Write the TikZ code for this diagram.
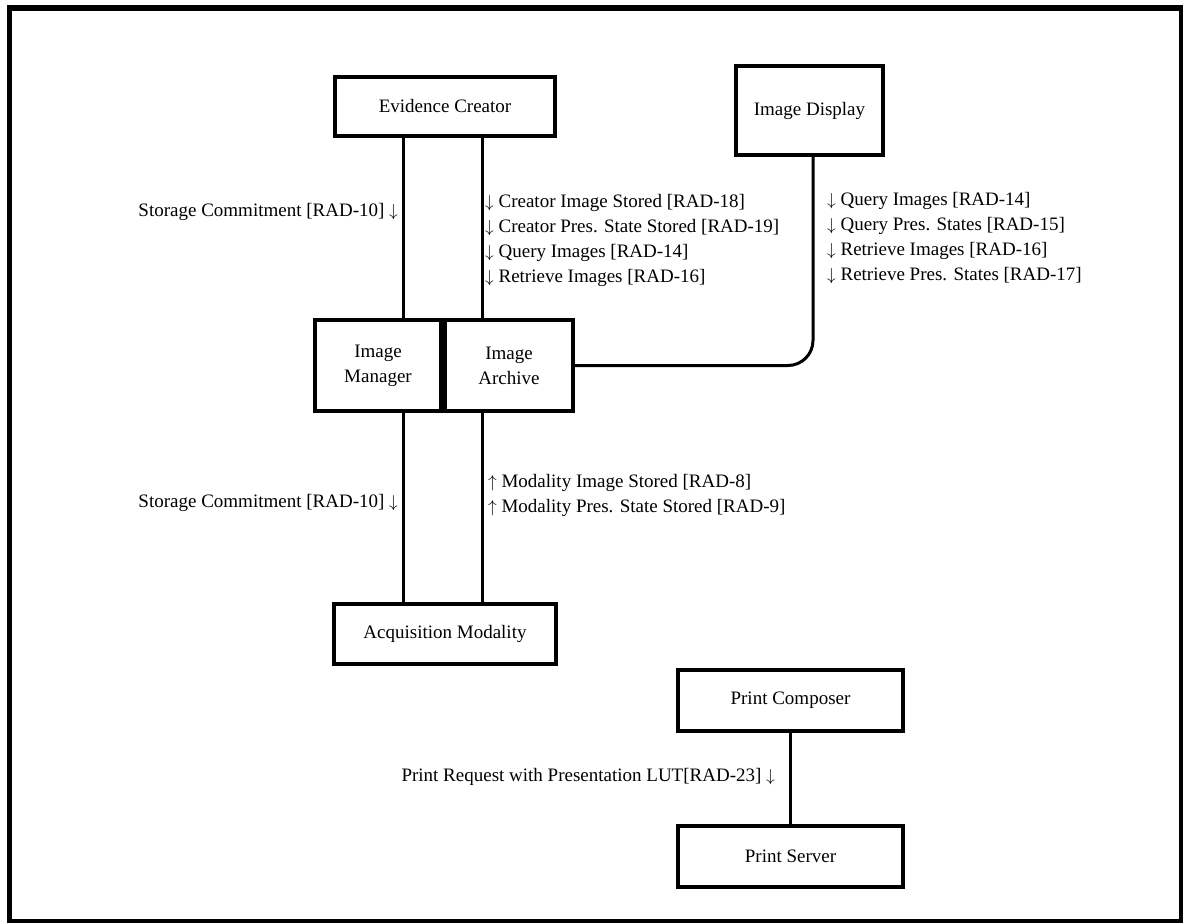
\documentclass[tikz,border=0pt]{standalone}
\usepackage{fontspec}
\setmainfont{Liberation Serif}
\usepackage{tikz}
\usetikzlibrary{positioning,calc}
\newcommand{\dn}{$\downarrow$}
\newcommand{\upw}{$\uparrow$}

\begin{document}
\begin{tikzpicture}[
  x=1pt,y=-1pt,
  font=\fontsize{19}{25}\selectfont,
  actor/.style={draw=black,line width=4pt,fill=white,align=center,inner sep=2pt},
  link/.style={line width=3pt,draw=black},
  txn/.style={align=left,inner sep=0pt}
]
\useasboundingbox (0,0) rectangle (1183,923);
\draw[line width=5.5pt] (9.5,8) rectangle (1182,921.5);

% actors
\node[actor,minimum width=220pt,minimum height=59pt] (ec) at (445,106.5) {Evidence Creator};
\node[actor,minimum width=147pt,minimum height=89pt] (id) at (809.5,110.5) {Image Display};
\node[actor,minimum width=126pt,minimum height=91pt] (im) at (378,365.5) {Image\\Manager};
\node[actor,minimum width=128pt,minimum height=91pt] (ia) at (509,365.5) {Image\\Archive};
\node[actor,minimum width=222pt,minimum height=60pt] (am) at (445,634) {Acquisition Modality};
\node[actor,minimum width=225pt,minimum height=61pt] (pc) at (790.5,700.5) {Print Composer};
\node[actor,minimum width=225pt,minimum height=61pt] (ps) at (790.5,856.5) {Print Server};

% connectors
\draw[link] ([xshift=-42pt]ec.south) -- ([xshift=-42pt]ec.south |- im.north);
\draw[link] ([xshift=37pt]ec.south) -- ([xshift=37pt]ec.south |- ia.north);
\draw[link] ([xshift=-42pt]am.north |- im.south) -- ([xshift=-42pt]am.north);
\draw[link] ([xshift=37pt]am.north |- ia.south) -- ([xshift=37pt]am.north);
\draw[link,rounded corners=25pt] (ia.east) -| ([xshift=3.5pt]id.south);
\draw[link] (pc.south) -- (ps.north);

% transactions
\node[txn,anchor=east] (sc1) at (398,212) {Storage Commitment [RAD-10] \dn};
\node[txn,anchor=west] (ecx) at (485,240.5) {\dn\ Creator Image Stored [RAD-18]\\\dn\ Creator Pres. State Stored [RAD-19]\\\dn\ Query Images [RAD-14]\\\dn\ Retrieve Images [RAD-16]};
\node[txn,anchor=west] (idx) at (827,238.5) {\dn\ Query Images [RAD-14]\\\dn\ Query Pres. States [RAD-15]\\\dn\ Retrieve Images [RAD-16]\\\dn\ Retrieve Pres. States [RAD-17]};
\node[txn,anchor=east] (sc2) at (398,503) {Storage Commitment [RAD-10] \dn};
\node[txn,anchor=west] (amx) at (488,495) {\upw\ Modality Image Stored [RAD-8]\\\upw\ Modality Pres. State Stored [RAD-9]};
\node[txn,anchor=east] (prx) at (775,777) {Print Request with Presentation LUT[RAD-23] \dn};
\end{tikzpicture}
\end{document}
